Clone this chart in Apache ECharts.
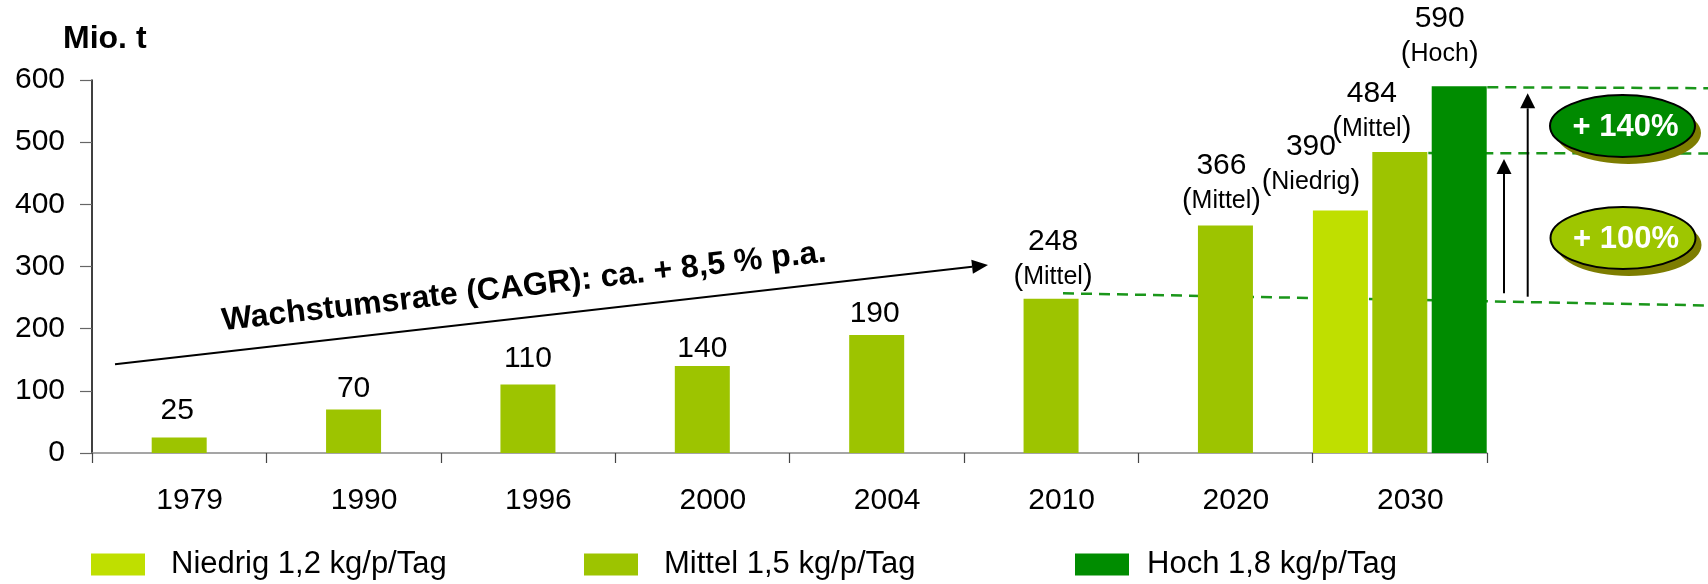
<!DOCTYPE html>
<html>
<head>
<meta charset="utf-8">
<script src="https://cdn.jsdelivr.net/npm/echarts@6/dist/echarts.min.js"></script>
<style>
html,body{margin:0;padding:0;background:#fff;}
#c{width:1708px;height:584px;}
</style>
</head>
<body>
<div id="c"></div>
<script>
// ---- data ----
const categories = ['1979', '1990', '1996', '2000', '2004', '2010', '2020', '2030'];
const niedrigValues = [null, null, null, null, null, null, null, 390];
const mittelValues = [25, 70, 110, 140, 190, 248, 366, 484];
const hochValues = [null, null, null, null, null, null, null, 590];
const niedrigNotes = ['', '', '', '', '', '', '', 'Niedrig'];
const mittelNotes = ['', '', '', '', '', 'Mittel', 'Mittel', 'Mittel'];
const hochNotes = ['', '', '', '', '', '', '', 'Hoch'];
const seriesNames = ['Niedrig 1,2 kg/p/Tag', 'Mittel 1,5 kg/p/Tag', 'Hoch 1,8 kg/p/Tag'];
const yTickValues = [0, 100, 200, 300, 400, 500, 600];
const unitLabel = 'Mio. t';
const growthNote = 'Wachstumsrate (CAGR): ca. + 8,5 % p.a.';
const increaseNotes = ['+ 140%', '+ 100%'];

// ---- label placement tweaks (pixels) ----
const niedrigLabelOffsets = [[0,0],[0,0],[0,0],[0,0],[0,0],[0,0],[0,0],[-29.5,-8.5]];
const mittelLabelOffsets = [[-2,-12],[0,-6],[0,-11],[0,-2.5],[-2,-6.5],[2,-2],[-4,-4.5],[-28,-3]];
const hochLabelOffsets = [[0,0],[0,0],[0,0],[0,0],[0,0],[0,0],[0,0],[-19.5,-12.5]];

const FONT = '"Liberation Sans", Arial, sans-serif';
const COLORS = ['#BFDF00', '#9DC400', '#008C00'];

function buildData(values, offsets) {
  return values.map(function (v, i) {
    if (v === null) return '-';
    return { value: v, label: { offset: offsets[i] } };
  });
}
function labelFormatter(notes) {
  return function (p) {
    const note = notes[p.dataIndex];
    if (note) return '{v|' + p.value + '}\n{p|(}{w|' + note + '}{p|)}';
    return '{v|' + p.value + '}';
  };
}
const labelRich = {
  v: { fontSize: 30, lineHeight: 30, color: '#000', fontFamily: FONT },
  p: { fontSize: 29, lineHeight: 40, color: '#000', fontFamily: FONT },
  w: { fontSize: 25, lineHeight: 40, color: '#000', fontFamily: FONT }
};
function seriesFor(idx, values, notes, offsets) {
  return {
    name: seriesNames[idx],
    type: 'bar',
    barWidth: 55,
    barGap: '8%',
    itemStyle: { color: COLORS[idx] },
    label: {
      show: true,
      position: 'top',
      distance: 0,
      formatter: labelFormatter(notes),
      rich: labelRich
    },
    data: buildData(values, offsets),
    z: 3
  };
}

const chart = echarts.init(document.getElementById('c'), null, { renderer: 'canvas' });

function legendFor(idx, left, textPad) {
  return {
    data: [seriesNames[idx]],
    left: left,
    top: 549,
    padding: 0,
    itemWidth: 54,
    itemHeight: 22,
    icon: 'rect',
    selectedMode: false,
    textStyle: {
      fontSize: 31, fontFamily: FONT, color: '#000',
      padding: [0, 0, 0, textPad], lineHeight: 31
    }
  };
}

const option = {
  animation: false,
  backgroundColor: '#fff',
  title: {
    text: unitLabel,
    left: 63,
    top: 23,
    padding: 0,
    textStyle: { fontSize: 32, fontWeight: 'bold', fontFamily: FONT, color: '#000', lineHeight: 32 }
  },
  legend: [legendFor(0, 91, 21), legendFor(1, 584, 21), legendFor(2, 1075, 13)],
  grid: { left: 92, right: 221, top: 80, bottom: 131, containLabel: false },
  xAxis: {
    type: 'category',
    data: categories,
    axisLine: { show: true, lineStyle: { color: '#888', width: 1.5 } },
    axisTick: { show: true, length: 10, alignWithLabel: false, lineStyle: { color: '#444', width: 1.2 } },
    axisLabel: {
      fontSize: 30, fontFamily: FONT, color: '#000', margin: 33,
      padding: [0, 0, 0, 21]
    }
  },
  yAxis: {
    type: 'value',
    min: yTickValues[0],
    max: yTickValues[yTickValues.length - 1],
    interval: 100,
    splitLine: { show: false },
    axisLine: { show: true, lineStyle: { color: '#000', width: 1.5 } },
    axisTick: { show: true, length: 12, lineStyle: { color: '#666', width: 1.2 } },
    axisLabel: { fontSize: 30, fontFamily: FONT, color: '#000', margin: 27 }
  },
  series: [
    seriesFor(0, niedrigValues, niedrigNotes, niedrigLabelOffsets),
    seriesFor(1, mittelValues, mittelNotes, mittelLabelOffsets),
    seriesFor(2, hochValues, hochNotes, hochLabelOffsets)
  ]
};
chart.setOption(option);

// ---- annotations ----
const yHoch = chart.convertToPixel({ yAxisIndex: 0 }, hochValues[7]);
const yMittel = chart.convertToPixel({ yAxisIndex: 0 }, mittelValues[7]);
const xRight = chart.convertToPixel({ xAxisIndex: 0 }, categories[7]) + 87.5;

const DASH = { stroke: '#1A961A', lineWidth: 2.5, lineDash: [11, 7] };

function arrowHead(tipX, tipY, fromX, fromY, len, half) {
  const dx = tipX - fromX, dy = tipY - fromY;
  const L = Math.sqrt(dx * dx + dy * dy);
  const ux = dx / L, uy = dy / L;
  const bx = tipX - ux * len, by = tipY - uy * len;
  const px = -uy, py = ux;
  return {
    points: [[tipX, tipY], [bx + px * half, by + py * half], [bx - px * half, by - py * half]],
    base: [bx, by]
  };
}
function arrow(x1, y1, x2, y2, len, half) {
  const h = arrowHead(x2, y2, x1, y1, len, half);
  return [
    { type: 'line', shape: { x1: x1, y1: y1, x2: h.base[0], y2: h.base[1] }, style: { stroke: '#000', lineWidth: 2 }, z: 10 },
    { type: 'polygon', shape: { points: h.points }, style: { fill: '#000' }, z: 10 }
  ];
}
function badge(cx, cy, fill, text) {
  return [
    { type: 'ellipse', shape: { cx: cx + 6, cy: cy + 7, rx: 72.5, ry: 31 }, style: { fill: '#7D7D00' }, z: 10 },
    { type: 'ellipse', shape: { cx: cx, cy: cy, rx: 72.5, ry: 31 }, style: { fill: fill, stroke: '#000', lineWidth: 2 }, z: 11 },
    { type: 'text', x: cx + 3, y: cy + 1, style: { text: text, fill: '#fff', font: 'bold 31px ' + FONT, align: 'center', verticalAlign: 'middle' }, z: 12 }
  ];
}

const graphics = [].concat(
  arrow(115, 364.3, 988, 265, 16, 7),
  [{
    type: 'text', x: 524, y: 287, rotation: 0.1134,
    style: { text: growthNote, fill: '#000', font: 'bold 32px ' + FONT, align: 'center', verticalAlign: 'middle' },
    z: 10
  }],
  [
    { type: 'line', shape: { x1: 1063, y1: 293.3, x2: 1708, y2: 305.5 }, style: DASH, z: 0 },
    { type: 'line', shape: { x1: xRight, y1: yHoch + 1, x2: 1708, y2: yHoch + 2 }, style: DASH, z: 0 },
    { type: 'line', shape: { x1: xRight - 59, y1: yMittel + 1, x2: 1708, y2: yMittel + 1.5 }, style: DASH, z: 0 }
  ],
  arrow(1504, 293.3, 1504, 159, 15, 7.5),
  arrow(1527.7, 296.7, 1527.7, 93.3, 15, 7.5),
  badge(1622.5, 126, '#008A00', increaseNotes[0]),
  badge(1623, 238, '#9EC600', increaseNotes[1])
);
chart.setOption({ graphic: { elements: graphics } });
</script>
</body>
</html>
